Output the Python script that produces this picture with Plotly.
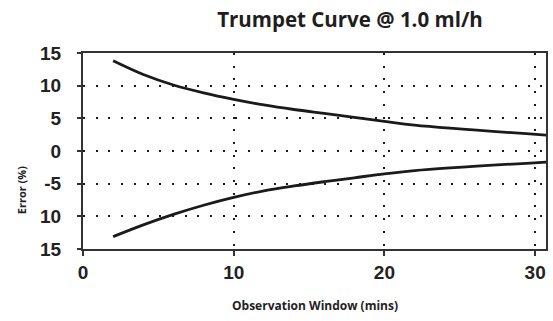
import plotly.graph_objects as go

# Observation window (minutes) and the trumpet-curve error envelopes (%)
window_min = [2, 4, 6, 8, 10, 12, 14, 16, 18, 20, 22, 31]
max_error = [13.8, 11.7, 10.1, 8.9, 7.9, 7.05, 6.35, 5.75, 5.15, 4.55, 3.95, 2.4]
min_error = [-13.1, -11.3, -9.7, -8.3, -7.1, -6.1, -5.35, -4.7, -4.1, -3.5, -3.0, -1.65]

x_ticks = [0, 10, 20, 30]
x_ticktext = ["0", "10", "20", "30"]
y_ticks = [15, 10, 5, 0, -5, -10, -15]
y_ticktext = ["15", "10", "5", "0", "-5", "10", "15"]

title_text = "Trumpet Curve @ 1.0 ml/h"
x_title = "Observation Window (mins)"
y_title = "Error (%)"

W, H = 553, 321
ML, MR, MT, MB = 82.5, 4.5, 52.5, 71.5

curve_style = dict(color="#1a1a1a", width=2.8, shape="spline", smoothing=1.0)

fig = go.Figure()
fig.add_trace(go.Scatter(x=window_min, y=max_error, mode="lines", line=curve_style,
                         hoverinfo="skip"))
fig.add_trace(go.Scatter(x=window_min, y=min_error, mode="lines", line=curve_style,
                         hoverinfo="skip"))

tick_font = dict(family="Liberation Sans, Arial, sans-serif", size=19, color="#222222",
                 weight="bold")
grid_common = dict(showgrid=True, gridcolor="#1a1a1a", gridwidth=2, griddash="2px,10.7px",
                   zeroline=False, showline=True, linecolor="#333333", linewidth=2,
                   mirror=True, ticks="outside", tickcolor="#333333", tickwidth=2,
                   tickfont=tick_font)

fig.update_layout(
    width=W, height=H,
    margin=dict(l=ML, r=MR, t=MT, b=MB),
    paper_bgcolor="white", plot_bgcolor="white",
    showlegend=False,
    title=dict(text="<b>" + title_text + "</b>", x=350 / W, xanchor="center",
               y=1 - 20 / H, yanchor="middle", xref="container",
               font=dict(family="Open Sans, sans-serif", size=20.5, color="#1e1e1e")),
    xaxis=dict(range=[0, 30.72], tickvals=x_ticks, ticktext=x_ticktext,
               ticklen=5, ticklabelstandoff=0, **grid_common),
    yaxis=dict(range=[-15, 15], tickvals=y_ticks, ticktext=y_ticktext,
               ticklen=4, ticklabelstandoff=12, **grid_common),
    annotations=[
        dict(text="<b>" + x_title + "</b>", xref="paper", yref="paper",
             x=0.5, y=-(306 - (H - MB)) / (H - MT - MB), xanchor="center", yanchor="middle",
             showarrow=False,
             font=dict(family="Open Sans, sans-serif", size=12, color="#222222")),
        dict(text="<b>" + y_title + "</b>", xref="paper", yref="paper",
             x=-(ML - 20.5) / (W - ML - MR), y=(H - MB - 190) / (H - MT - MB),
             xanchor="center", yanchor="middle", textangle=-90, showarrow=False,
             font=dict(family="Open Sans, sans-serif", size=11, color="#222222")),
    ],
)

fig.write_html("out.html")
